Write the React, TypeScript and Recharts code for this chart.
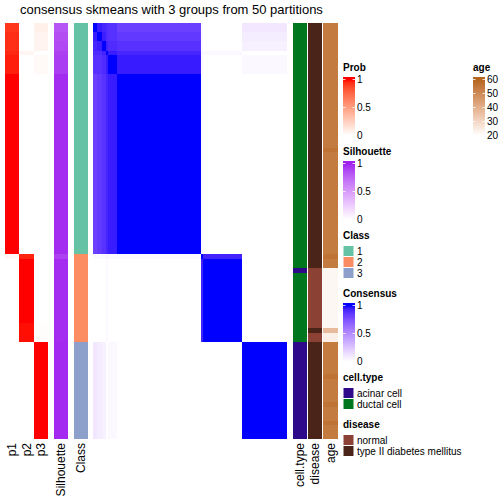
import React from "react";
import { BarChart, Bar, XAxis, YAxis, Cell } from "recharts";

// ---------------- data ----------------
const TITLE = "consensus skmeans with 3 groups from 50 partitions";

const classLevels = ["1", "2", "3"];
const cellTypeLevels = ["acinar cell", "ductal cell"];
const diseaseLevels = ["normal", "type II diabetes mellitus"];

const p1 = [
  0.92, 0.92, 0.94, 0.94, 0.94, 0.94, 0.95, 0.97, 0.97, 0.97,
  0.97, 1, 1, 1, 1, 1, 1, 1, 1, 1,
  1, 1, 1, 1, 1, 1, 1, 1, 1, 1,
  1, 1, 1, 1, 1, 1, 1, 1, 1, 1,
  1, 1, 1, 1, 1, 1, 1, 1, 1, 1,
  0.04, 0, 0, 0, 0, 0, 0, 0, 0, 0,
  0, 0, 0, 0, 0, 0, 0, 0, 0, 0,
  0, 0, 0, 0, 0, 0, 0, 0, 0, 0,
  0, 0, 0, 0, 0, 0, 0, 0, 0, 0,
];
const p2 = [
  0, 0, 0, 0, 0, 0, 0.05, 0, 0, 0,
  0, 0, 0, 0, 0, 0, 0, 0, 0, 0,
  0, 0, 0, 0, 0, 0, 0, 0, 0, 0,
  0, 0, 0, 0, 0, 0, 0, 0, 0, 0,
  0, 0, 0, 0, 0, 0, 0, 0, 0, 0,
  0.96, 1, 1, 1, 1, 1, 1, 1, 1, 1,
  1, 1, 1, 1, 1, 0.99, 0.99, 0.99, 0.99, 0,
  0, 0, 0, 0, 0, 0, 0, 0, 0, 0,
  0, 0, 0, 0, 0, 0, 0, 0, 0, 0,
];
const p3 = [
  0.08, 0.08, 0.06, 0.06, 0.06, 0.06, 0, 0.03, 0.03, 0.03,
  0.03, 0, 0, 0, 0, 0, 0, 0, 0, 0,
  0, 0, 0, 0, 0, 0, 0, 0, 0, 0,
  0, 0, 0, 0, 0, 0, 0, 0, 0, 0,
  0, 0, 0, 0, 0, 0, 0, 0, 0, 0,
  0, 0, 0, 0, 0, 0, 0, 0, 0, 0,
  0, 0, 0, 0, 0, 0.01, 0.01, 0.01, 0.01, 1,
  1, 1, 1, 1, 1, 1, 1, 1, 1, 1,
  1, 1, 1, 1, 1, 1, 1, 1, 1, 1,
];
const silhouette = [
  0.82, 0.82, 0.85, 0.85, 0.87, 0.87, 0.9, 0.92, 0.92, 0.92,
  0.92, 0.97, 0.97, 0.97, 0.97, 0.97, 0.97, 0.97, 0.97, 0.97,
  0.97, 0.97, 0.97, 0.97, 0.97, 0.97, 0.97, 0.97, 0.97, 0.97,
  0.97, 0.97, 0.97, 0.97, 0.97, 0.97, 0.97, 0.97, 0.97, 0.97,
  0.97, 0.97, 0.97, 0.97, 0.97, 0.97, 0.97, 0.97, 0.97, 0.97,
  0.9, 0.97, 0.97, 0.97, 0.97, 0.97, 0.97, 0.97, 0.97, 0.97,
  0.97, 0.97, 0.97, 0.97, 0.97, 0.97, 0.97, 0.97, 0.97, 0.98,
  0.98, 0.98, 0.98, 0.98, 0.98, 0.98, 0.98, 0.98, 0.98, 0.98,
  0.98, 0.98, 0.98, 0.98, 0.98, 0.98, 0.98, 0.98, 0.98, 0.98,
];
const classLabels = [
  1, 1, 1, 1, 1, 1, 1, 1, 1, 1,
  1, 1, 1, 1, 1, 1, 1, 1, 1, 1,
  1, 1, 1, 1, 1, 1, 1, 1, 1, 1,
  1, 1, 1, 1, 1, 1, 1, 1, 1, 1,
  1, 1, 1, 1, 1, 1, 1, 1, 1, 1,
  2, 2, 2, 2, 2, 2, 2, 2, 2, 2,
  2, 2, 2, 2, 2, 2, 2, 2, 2, 3,
  3, 3, 3, 3, 3, 3, 3, 3, 3, 3,
  3, 3, 3, 3, 3, 3, 3, 3, 3, 3,
];
// 0 = acinar cell, 1 = ductal cell
const cellType = [
  1, 1, 1, 1, 1, 1, 1, 1, 1, 1,
  1, 1, 1, 1, 1, 1, 1, 1, 1, 1,
  1, 1, 1, 1, 1, 1, 1, 1, 1, 1,
  1, 1, 1, 1, 1, 1, 1, 1, 1, 1,
  1, 1, 1, 1, 1, 1, 1, 1, 1, 1,
  1, 1, 1, 0, 1, 1, 1, 1, 1, 1,
  1, 1, 1, 1, 1, 1, 1, 1, 1, 0,
  0, 0, 0, 0, 0, 0, 0, 0, 0, 0,
  0, 0, 0, 0, 0, 0, 0, 0, 0, 0,
];
// 0 = normal, 1 = type II diabetes mellitus
const disease = [
  1, 1, 1, 1, 1, 1, 1, 1, 1, 1,
  1, 1, 1, 1, 1, 1, 1, 1, 1, 1,
  1, 1, 1, 1, 1, 1, 1, 1, 1, 1,
  1, 1, 1, 1, 1, 1, 1, 1, 1, 1,
  1, 1, 1, 1, 1, 1, 1, 1, 1, 1,
  1, 1, 1, 0, 0, 0, 0, 0, 0, 0,
  0, 0, 0, 0, 0, 0, 1, 0, 0, 1,
  1, 1, 1, 1, 1, 1, 1, 1, 1, 1,
  1, 1, 1, 1, 1, 1, 1, 1, 1, 1,
];
const age = [
  54, 54, 54, 54, 54, 54, 54, 54, 54, 54,
  54, 54, 54, 54, 54, 54, 54, 54, 54, 54,
  54, 54, 54, 54, 54, 54, 54, 56, 54, 54,
  54, 54, 54, 54, 54, 54, 54, 54, 54, 54,
  54, 54, 54, 54, 54, 54, 54, 54, 54, 54,
  56, 54, 54, 22, 22, 22, 22, 22, 22, 22,
  22, 22, 22, 22, 22, 22, 37, 24, 24, 54,
  54, 54, 54, 54, 54, 54, 56, 54, 54, 54,
  54, 54, 56, 54, 54, 54, 56, 54, 54, 54,
];

// consensus matrix: samples come in runs that share identical consensus values
const subgroupSizes = [2, 2, 2, 1, 4, 39, 1, 18, 21];
const consensusBlocks = [
  [1.0, 0.95, 0.92, 0.9, 0.88, 0.82, 0.03, 0.0, 0.1],
  [0.95, 1.0, 0.94, 0.9, 0.88, 0.85, 0.03, 0.0, 0.08],
  [0.92, 0.94, 1.0, 0.93, 0.9, 0.88, 0.03, 0.0, 0.06],
  [0.9, 0.9, 0.93, 1.0, 0.95, 0.92, 0.05, 0.03, 0.0],
  [0.88, 0.88, 0.9, 0.95, 1.0, 0.95, 0.03, 0.0, 0.03],
  [0.82, 0.85, 0.88, 0.92, 0.95, 1.0, 0.03, 0.0, 0.0],
  [0.03, 0.03, 0.03, 0.05, 0.03, 0.03, 1.0, 0.93, 0.0],
  [0.0, 0.0, 0.0, 0.03, 0.0, 0.0, 0.93, 1.0, 0.0],
  [0.1, 0.08, 0.06, 0.0, 0.03, 0.0, 0.0, 0.0, 1.0],
];

const stripLabels = ["p1", "p2", "p3", "Silhouette", "Class", "cell.type", "disease", "age"];

// ---------------- colours ----------------
const classColors = ["#66C2A5", "#FC8D62", "#8DA0CB"];
const cellTypeColors = ["#2E0A8B", "#00761F"];
const diseaseColors = ["#8B4134", "#4A2419"];

type Lab = [number, number, number];
const hexToRgb = (h: string) => [1, 3, 5].map((i) => parseInt(h.slice(i, i + 2), 16));
const toLin = (c: number) => {
  const v = c / 255;
  return v <= 0.04045 ? v / 12.92 : Math.pow((v + 0.055) / 1.055, 2.4);
};
const fromLin = (c: number) => {
  const v = c <= 0.0031308 ? 12.92 * c : 1.055 * Math.pow(c, 1 / 2.4) - 0.055;
  return Math.round(Math.max(0, Math.min(1, v)) * 255);
};
const rgbToLab = (hex: string): Lab => {
  const [r, g, b] = hexToRgb(hex).map(toLin);
  const X = (r * 0.4124564 + g * 0.3575761 + b * 0.1804375) / 0.95047;
  const Y = r * 0.2126729 + g * 0.7151522 + b * 0.072175;
  const Z = (r * 0.0193339 + g * 0.119192 + b * 0.9503041) / 1.08883;
  const f = (t: number) => (t > 216 / 24389 ? Math.cbrt(t) : (24389 / 27 * t + 16) / 116);
  const fx = f(X), fy = f(Y), fz = f(Z);
  return [116 * fy - 16, 500 * (fx - fy), 200 * (fy - fz)];
};
const labToHex = ([L, a, b]: Lab) => {
  const fy = (L + 16) / 116, fx = fy + a / 500, fz = fy - b / 200;
  const inv = (t: number) => (t * t * t > 216 / 24389 ? t * t * t : (116 * t - 16) / (24389 / 27));
  const X = inv(fx) * 0.95047, Y = inv(fy), Z = inv(fz) * 1.08883;
  const r = 3.2404542 * X - 1.5371385 * Y - 0.4985314 * Z;
  const g = -0.969266 * X + 1.8760108 * Y + 0.041556 * Z;
  const bb = 0.0556434 * X - 0.2040259 * Y + 1.0572252 * Z;
  return "#" + [r, g, bb].map((c) => fromLin(c).toString(16).padStart(2, "0")).join("");
};
const ramp = (lo: number, hi: number, c0: string, c1: string) => {
  const a = rgbToLab(c0), b = rgbToLab(c1);
  return (v: number) => {
    const t = Math.max(0, Math.min(1, (v - lo) / (hi - lo)));
    return labToHex([a[0] + (b[0] - a[0]) * t, a[1] + (b[1] - a[1]) * t, a[2] + (b[2] - a[2]) * t]);
  };
};
const probColor = ramp(0, 1, "#FFFFFF", "#FF0000");
const silColor = ramp(0, 1, "#FFFFFF", "#A020F0");
const consColor = ramp(0, 1, "#FFFFFF", "#0000FF");
const ageColor = ramp(20, 60, "#FFFFFF", "#B5651D");

// ---------------- layout ----------------
const FONT = '"Liberation Sans", Arial, Helvetica, sans-serif';
const TOP = 23;
const H = 416;
const PROB_X = 5, PROB_W = 43;
const SIL_X = 54, CLS_X = 74, STRIP_W = 14;
const MAT_X = 93, MAT_W = 194;
const CT_X = 293, DIS_X = 308, AGE_X = 323, AGE_W = 15;
const LEG_X = 343;

// ---------------- chart rows ----------------
const subgroupOf: number[] = [];
subgroupSizes.forEach((s, g) => {
  for (let k = 0; k < s; k++) subgroupOf.push(g);
});
const rows = p1.map((_, i) => {
  const r: Record<string, any> = { id: `S${i + 1}` };
  for (let k = 0; k < 3; k++) r[`u${k}`] = 1;
  subgroupSizes.forEach((s, c) => (r[`b${c}`] = s));
  return r;
});

const CrispRect = (props: any) => {
  const { x, y, width, height, fill } = props;
  if (!(width > 0) || !(height > 0)) return <g />;
  return <rect x={x} y={y} width={width} height={height} fill={fill} shapeRendering="crispEdges" />;
};

function Strip({ left, width, series }: { left: number; width: number; series: string[][] }) {
  return (
    <div style={{ position: "absolute", left, top: TOP }}>
      <BarChart
        width={width}
        height={H}
        layout="vertical"
        data={rows}
        margin={{ top: 0, right: 0, bottom: 0, left: 0 }}
        barCategoryGap={0}
        barGap={0}
      >
        <XAxis type="number" domain={[0, series.length]} hide />
        <YAxis type="category" dataKey="id" hide />
        {series.map((colors, k) => (
          <Bar key={k} dataKey={`u${k}`} stackId="s" isAnimationActive={false} shape={CrispRect}>
            {colors.map((c, i) => (
              <Cell key={i} fill={c} />
            ))}
          </Bar>
        ))}
      </BarChart>
    </div>
  );
}

function Matrix() {
  return (
    <div style={{ position: "absolute", left: MAT_X, top: TOP }}>
      <BarChart
        width={MAT_W}
        height={H}
        layout="vertical"
        data={rows}
        margin={{ top: 0, right: 0, bottom: 0, left: 0 }}
        barCategoryGap={0}
        barGap={0}
      >
        <XAxis type="number" domain={[0, p1.length]} hide />
        <YAxis type="category" dataKey="id" hide />
        {subgroupSizes.map((_, c) => (
          <Bar key={c} dataKey={`b${c}`} stackId="m" isAnimationActive={false} shape={CrispRect}>
            {rows.map((_, i) => (
              <Cell key={i} fill={consColor(consensusBlocks[subgroupOf[i]][c])} />
            ))}
          </Bar>
        ))}
      </BarChart>
    </div>
  );
}

// ---------------- legends ----------------
function GradLegend({
  x, titleY, title, id, lo, hi, breaks, labels, colorFn,
}: {
  x: number; titleY: number; title: string; id: string; lo: number; hi: number;
  breaks: number[]; labels: string[]; colorFn: (v: number) => string;
}) {
  const barTop = titleY + 6;
  const barBot = titleY + 66;
  const yOf = (v: number) => titleY + 8.5 + ((hi - v) / (hi - lo)) * 56;
  const stops = Array.from({ length: 21 }, (_, k) => lo + (k / 20) * (hi - lo));
  return (
    <g>
      <defs>
        <linearGradient id={id} x1="0" y1={barTop} x2="0" y2={barBot} gradientUnits="userSpaceOnUse">
          {stops
            .slice()
            .reverse()
            .map((v, k) => (
              <stop key={k} offset={(yOf(v) - barTop) / (barBot - barTop)} stopColor={colorFn(v)} />
            ))}
        </linearGradient>
      </defs>
      <text x={x} y={titleY} fontSize={10} fontWeight="bold">{title}</text>
      <rect x={x} y={barTop} width={12} height={barBot - barTop} fill={`url(#${id})`} />
      {breaks.map((b, k) => (
        <g key={k}>
          <line x1={x} x2={x + 2.5} y1={yOf(b)} y2={yOf(b)} stroke="#fff" strokeWidth={0.8} />
          <line x1={x + 9.5} x2={x + 12} y1={yOf(b)} y2={yOf(b)} stroke="#fff" strokeWidth={0.8} />
          <text x={x + 14} y={yOf(b)} fontSize={10} dominantBaseline="central">{labels[k]}</text>
        </g>
      ))}
    </g>
  );
}

function BoxLegend({ x, titleY, title, levels, colors }: { x: number; titleY: number; title: string; levels: string[]; colors: string[] }) {
  return (
    <g>
      <text x={x} y={titleY} fontSize={10} fontWeight="bold">{title}</text>
      {levels.map((l, k) => {
        const y = titleY + 6.5 + k * 11;
        return (
          <g key={k}>
            <rect x={x} y={y} width={11} height={11} fill={colors[k]} stroke="#fff" strokeWidth={1} />
            <text x={x + 14} y={y + 5.5} fontSize={10} dominantBaseline="central">{l}</text>
          </g>
        );
      })}
    </g>
  );
}

export default function App() {
  const labelCenters = [
    PROB_X + PROB_W / 6,
    PROB_X + PROB_W / 2,
    PROB_X + (PROB_W * 5) / 6,
    SIL_X + STRIP_W / 2,
    CLS_X + STRIP_W / 2,
    CT_X + STRIP_W / 2,
    DIS_X + STRIP_W / 2,
    AGE_X + AGE_W / 2,
  ];
  return (
    <div style={{ position: "absolute", left: 0, top: 0, width: 504, height: 504, background: "#fff", overflow: "hidden" }}>
      <Strip left={PROB_X} width={PROB_W} series={[p1.map(probColor), p2.map(probColor), p3.map(probColor)]} />
      <Strip left={SIL_X} width={STRIP_W} series={[silhouette.map(silColor)]} />
      <Strip left={CLS_X} width={STRIP_W} series={[classLabels.map((c) => classColors[c - 1])]} />
      <Matrix />
      <Strip left={CT_X} width={STRIP_W} series={[cellType.map((c) => cellTypeColors[c])]} />
      <Strip left={DIS_X} width={STRIP_W} series={[disease.map((c) => diseaseColors[c])]} />
      <Strip left={AGE_X} width={AGE_W} series={[age.map(ageColor)]} />
      <svg width={504} height={504} style={{ position: "absolute", left: 0, top: 0, pointerEvents: "none" }} fontFamily={FONT}>
        <text x={(PROB_X + AGE_X + AGE_W) / 2} y={14} textAnchor="middle" fontSize={13}>{TITLE}</text>
        {stripLabels.map((l, k) => (
          <text
            key={l}
            x={labelCenters[k]}
            y={TOP + H + 4}
            fontSize={12}
            textAnchor="end"
            dominantBaseline="central"
            transform={`rotate(-90 ${labelCenters[k]} ${TOP + H + 4})`}
          >
            {l}
          </text>
        ))}
        <GradLegend x={LEG_X} titleY={71} title="Prob" id="gProb" lo={0} hi={1} breaks={[0, 0.5, 1]} labels={["0", "0.5", "1"]} colorFn={probColor} />
        <GradLegend x={LEG_X} titleY={155} title="Silhouette" id="gSil" lo={0} hi={1} breaks={[0, 0.5, 1]} labels={["0", "0.5", "1"]} colorFn={silColor} />
        <BoxLegend x={LEG_X} titleY={239} title="Class" levels={classLevels} colors={classColors} />
        <GradLegend x={LEG_X} titleY={297} title="Consensus" id="gCons" lo={0} hi={1} breaks={[0, 0.5, 1]} labels={["0", "0.5", "1"]} colorFn={consColor} />
        <BoxLegend x={LEG_X} titleY={381} title="cell.type" levels={cellTypeLevels} colors={cellTypeColors} />
        <BoxLegend x={LEG_X} titleY={428} title="disease" levels={diseaseLevels} colors={diseaseColors} />
        <GradLegend x={473} titleY={71} title="age" id="gAge" lo={20} hi={60} breaks={[20, 30, 40, 50, 60]} labels={["20", "30", "40", "50", "60"]} colorFn={ageColor} />
      </svg>
    </div>
  );
}
